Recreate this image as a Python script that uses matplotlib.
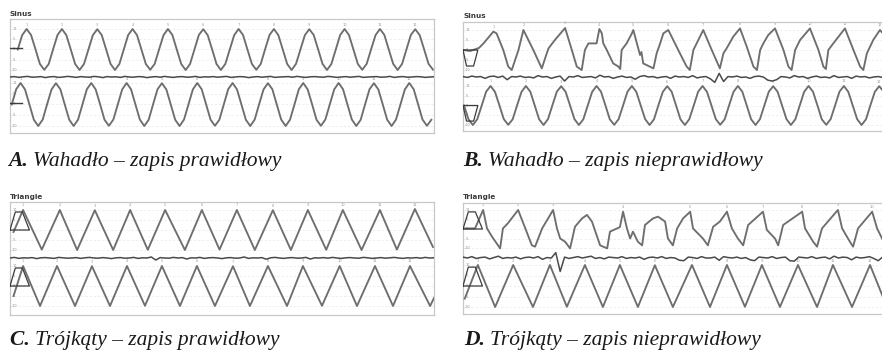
import numpy as np
import matplotlib
matplotlib.use("Agg")
import matplotlib.pyplot as plt

W, H = 882, 359

# ------------------------------------------------------------------ data
# time in seconds (one pendulum / triangle cycle ~ 1 s), 12 s per record
STEP = 0.125          # sampling step of the sine recordings
MID_STEP = 0.125      # sampling step of the middle (difference) channel

# ---- A: sine, correct recording
a_up_t0 = 0.22
a_up_v = [
    0.00, 0.70, 1.00, 0.71, 0.02, -0.70, -0.99, -0.71,
    0.01, 0.71, 1.00, 0.70, 0.00, -0.71, -1.00, -0.70,
    0.00, 0.70, 0.99, 0.71, 0.01, -0.70, -1.00, -0.71,
    0.00, 0.71, 1.00, 0.70, 0.00, -0.71, -0.99, -0.70,
    0.01, 0.70, 1.00, 0.71, 0.00, -0.70, -1.00, -0.71,
    0.00, 0.71, 0.99, 0.70, 0.01, -0.71, -1.00, -0.70,
    0.00, 0.70, 1.00, 0.71, 0.00, -0.70, -0.99, -0.71,
    0.01, 0.71, 1.00, 0.70, 0.00, -0.71, -1.00, -0.70,
    0.00, 0.70, 0.99, 0.71, 0.01, -0.70, -1.00, -0.71,
    0.00, 0.71, 1.00, 0.70, 0.00, -0.71, -0.99, -0.70,
    0.01, 0.70, 1.00, 0.71, 0.00, -0.70, -1.00, -0.71,
    0.00, 0.71, 0.99, 0.70, 0.01, -0.70, -0.98,
]
a_lo_t0 = 0.05
a_lo_v = [
    0.00, 0.71, 1.00, 0.70, 0.00, -0.71, -1.00, -0.70,
    0.01, 0.70, 0.99, 0.71, 0.00, -0.70, -1.00, -0.71,
    0.00, 0.71, 1.00, 0.70, 0.01, -0.71, -0.99, -0.70,
    0.00, 0.70, 1.00, 0.71, 0.00, -0.70, -1.00, -0.71,
    0.01, 0.71, 0.99, 0.70, 0.00, -0.71, -1.00, -0.70,
    0.00, 0.70, 1.00, 0.71, 0.01, -0.70, -0.99, -0.71,
    0.00, 0.71, 1.00, 0.70, 0.00, -0.71, -1.00, -0.70,
    0.01, 0.70, 0.99, 0.71, 0.00, -0.70, -1.00, -0.71,
    0.00, 0.71, 1.00, 0.70, 0.01, -0.71, -0.99, -0.70,
    0.00, 0.70, 1.00, 0.71, 0.00, -0.70, -1.00, -0.71,
    0.01, 0.71, 0.99, 0.70, 0.00, -0.71, -1.00, -0.70,
    0.00, 0.70, 1.00, 0.71, 0.01, -0.70, -0.99, -0.71,
]
a_mid_v = [
    0.00, 0.02, -0.02, 0.01, 0.03, -0.01, 0.00, 0.02, -0.03, 0.01, 0.02, -0.02,
    0.00, 0.03, 0.01, -0.02, 0.02, 0.00, -0.01, 0.03, 0.01, -0.03, 0.02, 0.00,
    0.01, -0.02, 0.03, 0.00, -0.01, 0.02, 0.01, -0.03, 0.00, 0.02, -0.01, 0.03,
    0.00, -0.02, 0.01, 0.02, -0.01, 0.00, 0.03, -0.02, 0.01, 0.00, 0.02, -0.01,
    0.01, 0.03, -0.02, 0.00, 0.02, 0.01, -0.03, 0.00, 0.02, -0.01, 0.01, 0.03,
    -0.02, 0.00, 0.01, 0.02, -0.01, 0.03, 0.00, -0.02, 0.01, 0.02, 0.00, -0.01,
    0.03, 0.01, -0.02, 0.00, 0.02, -0.01, 0.01, 0.03, -0.02, 0.00, 0.01, 0.02,
    -0.01, 0.00, 0.03, -0.02, 0.01, 0.02, -0.01, 0.00, 0.02, 0.01, -0.02, 0.00, 0.01,
]

# ---- B: sine, incorrect recording (distorted upper channel)
b_up_t = [0.00, 0.20, 0.45, 0.58, 0.86, 0.95, 1.14, 1.28, 1.38, 1.57, 1.71, 1.99,
          2.23, 2.37, 2.42, 2.60, 2.89, 3.08, 3.22, 3.36, 3.45, 3.55, 3.78, 3.86,
          3.93, 3.97, 4.07, 4.25, 4.40, 4.45, 4.49, 4.63, 4.78, 4.82, 5.01, 5.05,
          5.10, 5.39, 5.48, 5.58, 5.67, 5.81, 6.14, 6.33, 6.42, 6.52, 6.80, 7.04,
          7.27, 7.37, 7.46, 7.65, 7.84, 8.03, 8.22, 8.32, 8.41, 8.50, 8.64, 8.83,
          9.07, 9.21, 9.30, 9.40, 9.54, 9.82, 10.06, 10.20, 10.27, 10.34, 10.48,
          10.81, 11.05, 11.24, 11.33, 11.43, 11.61, 11.80, 12.00]
b_up_v = [0.00, -0.05, 0.10, 0.33, 0.92, 0.83, 0.00, -0.83, -1.00, 0.00, 1.00, 0.00,
          -0.92, -0.17, 0.08, 0.50, 1.10, 0.00, -0.83, -1.00, 0.00, 0.33, 0.33, 1.05,
          0.83, 0.33, 0.00, -0.67, -0.83, -0.95, 0.00, 0.33, 0.83, 1.00, -0.25, -0.10,
          -0.67, -0.92, -0.17, 0.33, 0.83, 1.00, -0.17, -0.83, -1.00, 0.00, 1.00, 0.00,
          -0.92, -0.17, 0.08, 0.67, 1.08, 0.17, -0.83, -1.00, 0.00, 0.33, 0.75, 1.08,
          0.00, -0.83, -1.00, 0.00, 0.50, 1.08, 0.00, -0.83, -0.95, 0.00, 0.33,
          1.08, 0.00, -0.83, -1.00, -0.17, 0.50, 1.00, 0.60]
b_lo_t0 = 0.03
b_lo_v = [
    0.00, -0.71, -1.00, -0.70, 0.00, 0.71, 1.00, 0.70,
    0.01, -0.70, -0.99, -0.71, 0.00, 0.70, 1.00, 0.71,
    0.00, -0.71, -1.00, -0.70, 0.01, 0.71, 0.99, 0.70,
    0.00, -0.70, -1.00, -0.71, 0.00, 0.70, 1.00, 0.71,
    0.01, -0.71, -0.99, -0.70, 0.00, 0.71, 1.00, 0.70,
    0.00, -0.70, -1.00, -0.71, 0.01, 0.70, 0.99, 0.71,
    0.00, -0.71, -1.00, -0.70, 0.00, 0.71, 1.00, 0.70,
    0.01, -0.70, -0.99, -0.71, 0.00, 0.70, 1.00, 0.71,
    0.00, -0.71, -1.00, -0.70, 0.01, 0.71, 0.99, 0.70,
    0.00, -0.70, -1.00, -0.71, 0.00, 0.70, 1.00, 0.71,
    0.01, -0.71, -0.99, -0.70, 0.00, 0.71, 1.00, 0.70,
    0.00, -0.70, -1.00, -0.71, 0.01, 0.70, 0.99, 0.71,
]
b_mid_v = [
    0.05, -0.05, 0.10, 0.00, 0.05, -0.15, 0.05, 0.10, -0.05, 0.10, -0.30, 0.05,
    0.00, 0.10, -0.05, 0.00, -0.10, 0.15, 0.00, 0.05, -0.15, 0.00, 0.10, -0.45,
    0.05, 0.00, 0.15, -0.05, 0.00, 0.05, -0.10, 0.20, 0.00, 0.05, -0.15, 0.00,
    0.10, -0.05, 0.00, -0.25, 0.05, 0.15, 0.00, 0.05, -0.10, 0.00, 0.05, -0.15,
    0.10, 0.00, 0.05, -0.05, 0.15, -0.10, 0.00, 0.05, -0.20, -0.60, 0.40, -0.50,
    0.05, 0.00, 0.10, -0.05, 0.00, -0.15, 0.05, 0.10, 0.00, -0.35, -0.45, -0.30,
    0.05, 0.00, -0.10, 0.15, 0.00, 0.05, -0.15, 0.00, 0.10, -0.05, 0.00, -0.10,
    0.15, -0.05, 0.00, 0.05, -0.15, 0.10, 0.00, 0.05, -0.10, 0.00, 0.05, -0.05, 0.05,
]

# ---- C: triangle, correct recording (peak / trough key points)
c_up_t = [0.10, 0.37, 0.90, 1.41, 1.90, 2.40, 2.92, 3.40, 3.90, 4.39, 4.95, 5.43,
          5.93, 6.42, 6.93, 7.44, 7.95, 8.43, 8.95, 9.42, 9.95, 10.47, 10.95,
          11.46, 11.97]
c_up_v = [-0.10, 1.00, -0.98, 1.00, -1.00, 0.99, -1.00, 1.00, -0.99, 1.00, -1.00,
          1.00, -0.98, 1.00, -1.00, 0.99, -1.00, 1.00, -0.99, 1.00, -1.00, 1.00,
          -0.98, 1.05, -0.85]
c_lo_t = [0.10, 0.37, 0.85, 1.33, 1.84, 2.32, 2.83, 3.31, 3.82, 4.30, 4.81, 5.29,
          5.80, 6.31, 6.79, 7.30, 7.84, 8.29, 8.83, 9.33, 9.82, 10.33, 10.84,
          11.32, 11.89, 12.00]
c_lo_v = [-0.50, 1.00, -1.00, 1.00, -1.00, 0.99, -1.00, 1.00, -0.99, 1.00, -1.00,
          1.00, -1.00, 0.99, -1.00, 1.00, -1.00, 1.00, -0.99, 1.00, -1.00, 1.00,
          -1.00, 1.00, -1.00, -0.60]
c_mid_v = [
    0.00, 0.03, -0.02, 0.01, 0.00, 0.02, -0.03, 0.01, 0.02, 0.00, -0.02, 0.03,
    0.01, -0.01, 0.00, 0.02, -0.02, 0.01, 0.03, 0.00, -0.01, 0.02, 0.00, -0.03,
    0.01, 0.02, -0.01, 0.00, 0.03, -0.02, 0.01, 0.00, 0.05, -0.10, 0.02, 0.00,
    -0.01, 0.03, 0.00, 0.02, -0.05, 0.01, 0.00, 0.03, -0.02, 0.01, 0.02, 0.00,
    -0.03, 0.01, 0.02, -0.01, 0.00, 0.05, -0.02, 0.01, 0.00, 0.02, -0.06, 0.01,
    0.03, 0.00, -0.02, 0.01, 0.02, -0.01, 0.00, 0.03, -0.05, 0.01, 0.00, 0.02,
    -0.01, 0.03, 0.00, -0.02, 0.01, 0.02, 0.00, -0.01, 0.03, 0.01, -0.02, 0.00,
    0.02, -0.01, 0.01, 0.03, 0.00, -0.02, 0.01, 0.00, 0.02, -0.01, 0.03, 0.00, 0.01,
]

# ---- D: triangle, incorrect recording (distorted upper channel)
d_up_t = [0.06, 0.34, 0.57, 0.68, 0.82, 1.05, 1.13, 1.27, 1.56, 1.95, 2.04, 2.24,
          2.55, 2.66, 2.75, 2.89, 3.03, 3.17, 3.37, 3.51, 3.65, 3.88, 4.08, 4.16,
          4.36, 4.44, 4.53, 4.64, 4.73, 4.81, 4.95, 5.07, 5.15, 5.38, 5.52, 5.72,
          5.80, 5.94, 6.06, 6.23, 6.43, 6.51, 6.79, 6.93, 7.08, 7.27, 7.47, 7.61,
          7.78, 7.93, 8.07, 8.49, 8.60, 8.83, 8.92, 9.06, 9.60, 9.68, 9.91, 10.02,
          10.16, 10.61, 10.73, 10.95, 11.04, 11.18, 11.58, 11.72, 11.86, 12.00]
d_up_v = [0.03, 0.03, 1.00, 0.03, -0.40, -1.02, 0.03, 0.30, 1.00, -0.86, -0.93, 0.03,
          1.00, 0.03, -0.50, -0.67, -1.02, 0.12, 0.56, 0.74, 0.39, -0.86, -1.02, -0.14,
          0.03, 0.10, 0.91, 0.03, -0.50, -0.14, -0.67, -0.86, 0.21, 0.56, 0.65, 0.39,
          -0.50, -0.86, 0.03, 0.56, 0.91, 0.03, -0.50, -0.86, 0.12, 0.39, 0.91, 0.03,
          -0.50, -0.86, 0.21, 0.91, -0.05, -0.50, -0.86, 0.21, 0.91, 0.03, -0.67, -0.93,
          0.03, 1.00, 0.03, -0.67, -0.93, 0.03, 0.91, 0.03, -0.50, -0.90]
d_lo_t = [0.05, 0.42, 0.91, 1.42, 1.98, 2.46, 2.94, 3.45, 3.96, 4.44, 4.95, 5.43,
          5.94, 6.48, 6.99, 7.47, 7.98, 8.46, 8.97, 9.48, 10.02, 10.47, 11.01,
          11.52, 12.00]
d_lo_v = [-0.60, 1.00, -1.00, 1.00, -1.00, 1.00, -0.99, 1.00, -1.00, 1.00, -1.00,
          0.99, -1.00, 1.00, -1.00, 1.00, -0.99, 1.00, -1.00, 1.00, -1.00, 1.00,
          -1.00, 1.00, -1.00]
d_mid_v = [
    0.10, 0.00, 0.15, -0.05, 0.05, 0.10, -0.10, 0.05, 0.20, -0.05, 0.05, 0.00,
    0.10, -0.10, 0.05, 0.10, 0.00, 0.15, -0.15, 0.05, 0.00, 0.60, -1.50, 0.10,
    -0.05, 0.05, 0.15, 0.00, 0.10, 0.20, -0.05, 0.05, -0.10, 0.10, 0.05, 0.00,
    0.15, -0.05, 0.05, 0.00, 0.10, -0.15, 0.05, 0.10, 0.00, 0.15, -0.05, 0.05,
    0.00, -0.25, -0.30, 0.10, 0.05, -0.05, 0.15, 0.00, 0.00, 0.10, -0.25, 0.15,
    0.05, 0.00, 0.10, -0.05, 0.05, -0.20, -0.30, 0.10, 0.05, 0.00, 0.15, -0.05,
    0.05, 0.10, -0.30, -0.35, 0.10, 0.05, 0.00, 0.15, -0.05, 0.05, 0.10, -0.10,
    0.20, 0.00, 0.10, 0.05, -0.20, 0.10, 0.00, 0.05, 0.15, -0.05, -0.30, 0.10, 0.05,
]

titles = ["Sinus", "Sinus", "Triangle", "Triangle"]
captions = [("A.", "Wahadło – zapis prawidłowy"),
            ("B.", "Wahadło – zapis nieprawidłowy"),
            ("C.", "Trójkąty – zapis prawidłowy"),
            ("D.", "Trójkąty – zapis nieprawidłowy")]
axis_labels = ["10", "5", "0", "-5", "-10"]

# ------------------------------------------------------------------ layout
TRACE = "#6e6e6e"
MIDC = "#4a4a4a"
FRAME = "#c8c8c8"

fig = plt.figure(figsize=(W / 100, H / 100), dpi=100)


def sampled(t0, vals, step):
    return t0 + step * np.arange(len(vals)), np.asarray(vals)


def make_panel(rect, tracks, mid_center, mid_vals, mid_amp, title, marker):
    left, top, right, bottom = rect
    ax = fig.add_axes([left / W, 1 - bottom / H, (right - left) / W, (bottom - top) / H])
    ax.set_xlim(0, 12)
    ax.set_ylim(bottom, top)
    ax.set_xticks([])
    ax.set_yticks([])
    for s in ax.spines.values():
        s.set_color(FRAME)
        s.set_linewidth(0.9)
    # faint grid lines of the recorder screen
    for (t, v, c, a) in tracks:
        for f in (-1.0, -0.5, 0.0, 0.5, 1.0):
            ax.axhline(c + f * a, color="#ececec", lw=0.6, ls=(0, (3, 2)), zorder=0)
    # traces
    for (t, v, c, a) in tracks:
        ax.plot(t, c - a * np.asarray(v), color=TRACE, lw=1.35, solid_joinstyle="round", zorder=3)
        # little cycle labels at maxima
        vv = np.asarray(v)
        k = 1
        for i in range(1, len(vv) - 1):
            if vv[i] >= vv[i - 1] and vv[i] > vv[i + 1] and vv[i] > 0.85:
                ax.text(t[i], c - a * vv[i] - 2.5, str(k), fontsize=2.6, color="#999999",
                        ha="center", va="bottom", zorder=2)
                k += 1
        # tiny scale labels on the left
        for f, lab in zip((1.0, 0.5, 0.0, -0.5, -1.0), axis_labels):
            ax.text(0.12, c - a * f, lab, fontsize=2.4, color="#8a8a8a",
                    ha="center", va="center", zorder=2)
        # level marker at the left
        if marker == "line":
            ax.plot([0.0, 0.35], [c - 0.05 * a, c - 0.05 * a], color="#3c3c3c", lw=1.0, zorder=4)
        elif marker == "v":
            ax.plot([0.0, 0.42, 0.30, 0.10, 0.0], [c, c, c + 0.8 * a, c + 0.8 * a, c],
                    color="#3c3c3c", lw=0.9, zorder=4)
        elif marker == "a":
            ax.plot([0.0, 0.55, 0.35, 0.15, 0.0], [c, c, c - 0.9 * a, c - 0.9 * a, c],
                    color="#3c3c3c", lw=0.9, zorder=4)
    tm = MID_STEP * np.arange(len(mid_vals))
    ax.plot(tm, mid_center - mid_amp * np.asarray(mid_vals), color=MIDC, lw=1.1, zorder=4)
    fig.text(left / W, 1 - (top - 2.5) / H, title, fontsize=5.2, fontweight="bold",
             color="#3a3a3a", ha="left", va="bottom", family="DejaVu Sans")
    return ax


# panel A
t, v = sampled(a_up_t0, a_up_v, STEP)
t2, v2 = sampled(a_lo_t0, a_lo_v, STEP)
make_panel((10, 19, 434, 133), [(t, v, 49.5, 20.5), (t2, v2, 104.5, 21.5)],
           77, a_mid_v, 20, titles[0], "line")

# panel B (frame runs past the right edge of the page)
t2, v2 = sampled(b_lo_t0, b_lo_v, STEP)
make_panel((463, 22, 887, 131), [(np.asarray(b_up_t), b_up_v, 50, 20), (t2, v2, 105.5, 19.5)],
           77, b_mid_v, 9, titles[1], "v")

# panel C
make_panel((10, 202, 434, 315), [(np.asarray(c_up_t), c_up_v, 230, 20),
                                 (np.asarray(c_lo_t), c_lo_v, 286, 20)],
           258, c_mid_v, 20, titles[2], "a")

# panel D
make_panel((463, 203, 887, 314), [(np.asarray(d_up_t), d_up_v, 229, 19),
                                  (np.asarray(d_lo_t), d_lo_v, 286, 21)],
           258, d_mid_v, 9, titles[3], "a")

# captions
cap_pos = [(8, 166), (463, 166), (10, 345), (464, 345)]
fig.canvas.draw()
renderer = fig.canvas.get_renderer()
for (x, yb), (lab, rest) in zip(cap_pos, captions):
    t1 = fig.text(x / W, 1 - yb / H, lab + " ", fontsize=15.5, fontstyle="italic",
                  fontweight="bold", family="Liberation Serif", color="#1a1a1a",
                  ha="left", va="baseline")
    bb = t1.get_window_extent(renderer)
    fig.text((x + bb.width) / W, 1 - yb / H, rest, fontsize=15.5, fontstyle="italic",
             family="Liberation Serif", color="#1a1a1a", ha="left", va="baseline")

fig.savefig("out.png", dpi=100)
